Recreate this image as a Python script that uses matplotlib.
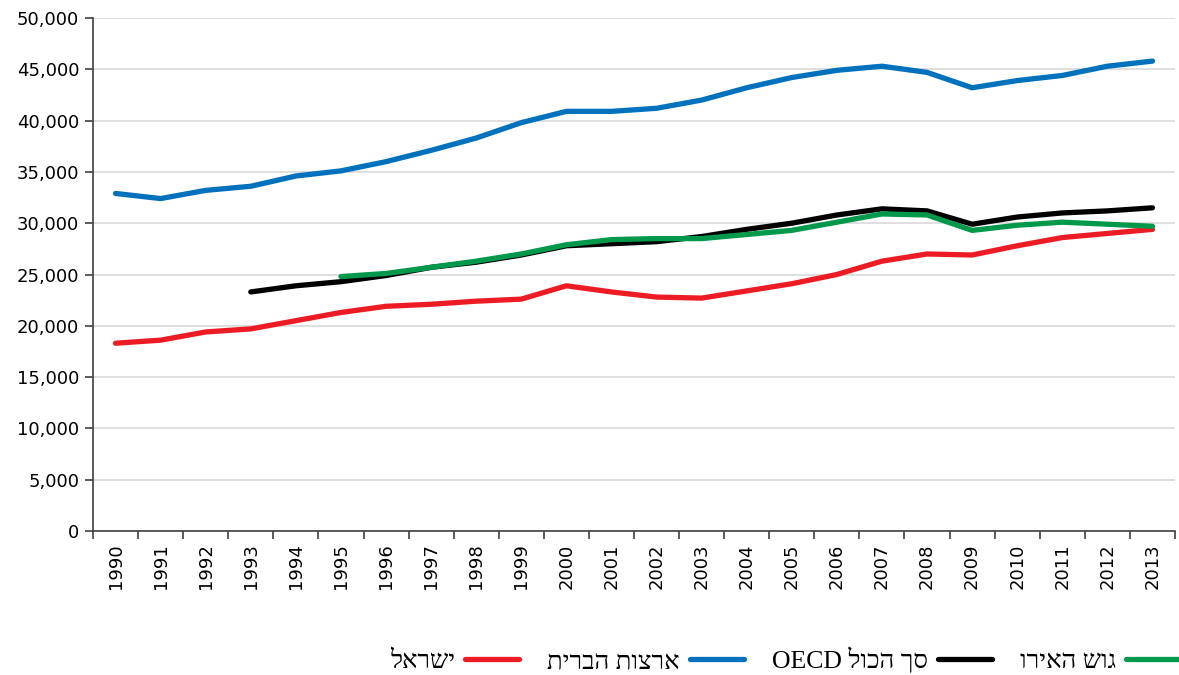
import matplotlib
matplotlib.use("Agg")
import matplotlib.pyplot as plt
from matplotlib.ticker import FuncFormatter, FixedLocator
import numpy as np

years = list(range(1990, 2014))
israel = [18.3, 18.6, 19.4, 19.7, 20.5, 21.3, 21.9, 22.1, 22.4, 22.6, 23.9, 23.3,
          22.8, 22.7, 23.4, 24.1, 25.0, 26.3, 27.0, 26.9, 27.8, 28.6, 29.0, 29.4]
usa = [32.9, 32.4, 33.2, 33.6, 34.6, 35.1, 36.0, 37.1, 38.3, 39.8, 40.9, 40.9,
       41.2, 42.0, 43.2, 44.2, 44.9, 45.3, 44.7, 43.2, 43.9, 44.4, 45.3, 45.8]
oecd = [None, None, None, 23.3, 23.9, 24.3, 24.9, 25.7, 26.2, 26.9, 27.8, 28.0,
        28.2, 28.7, 29.4, 30.0, 30.8, 31.4, 31.2, 29.9, 30.6, 31.0, 31.2, 31.5]
euro = [None, None, None, None, None, 24.8, 25.1, 25.7, 26.3, 27.0, 27.9, 28.4,
        28.5, 28.5, 28.9, 29.3, 30.1, 30.9, 30.8, 29.3, 29.8, 30.1, 29.9, 29.7]

labels = ["ישראל", "ארצות הברית", "סך הכול OECD", "גוש האירו"]

def visual(s):
    # convert logical RTL Hebrew string to visual order for LTR renderer
    words = s.split(" ")
    out = []
    for w in reversed(words):
        if any('\u0590' <= c <= '\u05FF' for c in w):
            out.append(w[::-1])
        else:
            out.append(w)
    return " ".join(out)

def arr(v):
    return np.array([np.nan if x is None else x * 1000 for x in v], dtype=float)

fig = plt.figure(figsize=(11.79, 6.75), dpi=100)
ax = fig.add_axes([93/1179, 1 - 531/675, (1175 - 93)/1179, (531 - 18)/675])

x = np.arange(len(years))
colors = {"israel": "#ED1C24", "usa": "#0071BC", "oecd": "#000000", "euro": "#00994C"}
lw = 3.8
h_isr, = ax.plot(x, arr(israel), color=colors["israel"], lw=lw, solid_capstyle="round", zorder=3)
h_usa, = ax.plot(x, arr(usa), color=colors["usa"], lw=lw, solid_capstyle="round", zorder=3)
h_oecd, = ax.plot(x, arr(oecd), color=colors["oecd"], lw=lw, solid_capstyle="round", zorder=3)
h_euro, = ax.plot(x, arr(euro), color=colors["euro"], lw=lw, solid_capstyle="round", zorder=4)

ax.set_xlim(-0.5, len(years) - 0.5)
ax.set_ylim(0, 50000)
ax.set_yticks(np.arange(0, 50001, 5000))
ax.yaxis.set_major_formatter(FuncFormatter(lambda v, p: f"{int(v):,}"))
ax.yaxis.grid(True, color="#d9d9d9", lw=1.2)
ax.set_axisbelow(True)

ax.xaxis.set_major_locator(FixedLocator(np.arange(-0.5, len(years), 1.0)))
ax.xaxis.set_minor_locator(FixedLocator(x))
ax.set_xticklabels([])
ax.set_xticklabels([str(y) for y in years], minor=True, rotation=90)
ax.tick_params(axis="x", which="major", length=6, width=1.2, color="#404040")
ax.tick_params(axis="x", which="minor", length=0, pad=9, labelsize=13)
ax.tick_params(axis="y", length=6, width=1.2, color="#404040", labelsize=13, pad=4)

for s in ["top", "right"]:
    ax.spines[s].set_visible(False)
for s in ["left", "bottom"]:
    ax.spines[s].set_color("#404040")
    ax.spines[s].set_linewidth(1.2)

leg = fig.legend([h_isr, h_usa, h_oecd, h_euro], [visual(l) for l in labels],
                 ncol=4, markerfirst=False, frameon=False,
                 loc="center right", bbox_to_anchor=(1180/1179, 1 - 660/675),
                 borderaxespad=0, borderpad=0, handlelength=2.1, handletextpad=0.39,
                 columnspacing=1.09,
                 prop={"family": ["Liberation Serif", "DejaVu Serif"], "size": 18.5})

fig.savefig("out.png", dpi=100)
